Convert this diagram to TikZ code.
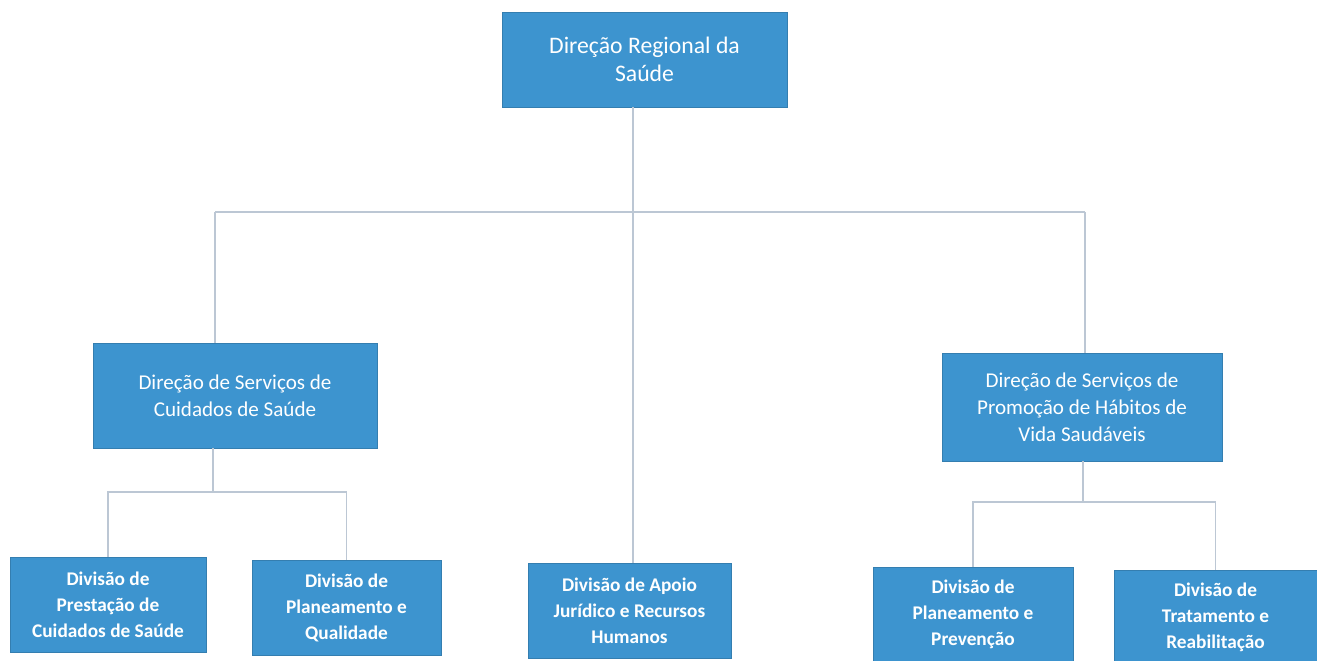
\documentclass[tikz,border=0pt]{standalone}
\usepackage{fontspec}
\setmainfont{Carlito}
\usetikzlibrary{calc}
\definecolor{boxblue}{RGB}{61,148,207}
\definecolor{linkgray}{RGB}{188,199,212}

\begin{document}
\begin{tikzpicture}[x=0.02cm, y=-0.02cm,
  unit/.style={draw=boxblue!85!black, line width=0.4pt, fill=boxblue, text=white, align=center, inner sep=2pt},
  big/.style={unit, font=\fontsize{13.5}{16}\selectfont},
  mid/.style={unit, font=\fontsize{12}{15.4}\selectfont},
  small/.style={unit, font=\fontsize{11}{14.8}\selectfont\bfseries},
  link/.style={linkgray, line width=0.6pt}]
\useasboundingbox (0,0) rectangle (1317,660);
% boxes
\node[big, minimum width=5.7cm, minimum height=1.9cm] (drs) at (644.5,59.5) {Direção Regional da\\Saúde};
\node[mid, minimum width=5.68cm, minimum height=2.1cm] (dscs) at (235,395.5) {Direção de Serviços de\\Cuidados de Saúde};
\node[mid, minimum width=5.6cm, minimum height=2.16cm] (dsph) at (1082,407) {Direção de Serviços de\\Promoção de Hábitos de\\Vida Saudáveis};
\node[small, minimum width=4.06cm, minimum height=1.9cm] (dajrh) at (629.5,610.5) {Divisão de Apoio\\Jurídico e Recursos\\Humanos};
\node[small, minimum width=3.92cm, minimum height=1.9cm] (dpcs) at (108,604.5) {Divisão de\\Prestação de\\Cuidados de Saúde};
\node[small, minimum width=3.78cm, minimum height=1.9cm] (dpq) at (346.5,607.5) {Divisão de\\Planeamento e\\Qualidade};
\node[small, minimum width=4cm, minimum height=1.9cm] (dpp) at (973,614.5) {Divisão de\\Planeamento e\\Prevenção};
\node[small, minimum width=4.06cm, minimum height=1.9cm] (dtr) at (1215.5,617.5) {Divisão de\\Tratamento e\\Reabilitação};
% buses
\coordinate (busL) at (215,212);
\coordinate (busM) at (633,212);
\coordinate (busR) at (1085,212);
\coordinate (subL) at (213,492);
\coordinate (subR) at (1083,502);
% connectors
\draw[link] (busL) -- (busR);
\draw[link] (busM |- drs.south) -- (busM |- dajrh.north);
\draw[link] (busL) -- (busL |- dscs.north);
\draw[link] (busR) -- (busR |- dsph.north);
\draw[link] (subL |- dscs.south) -- (subL);
\draw[link] (dpcs.north) |- (subL) -| (dpq.north);
\draw[link] (subR |- dsph.south) -- (subR);
\draw[link] (dpp.north) |- (subR) -| (dtr.north);
\end{tikzpicture}
\end{document}
